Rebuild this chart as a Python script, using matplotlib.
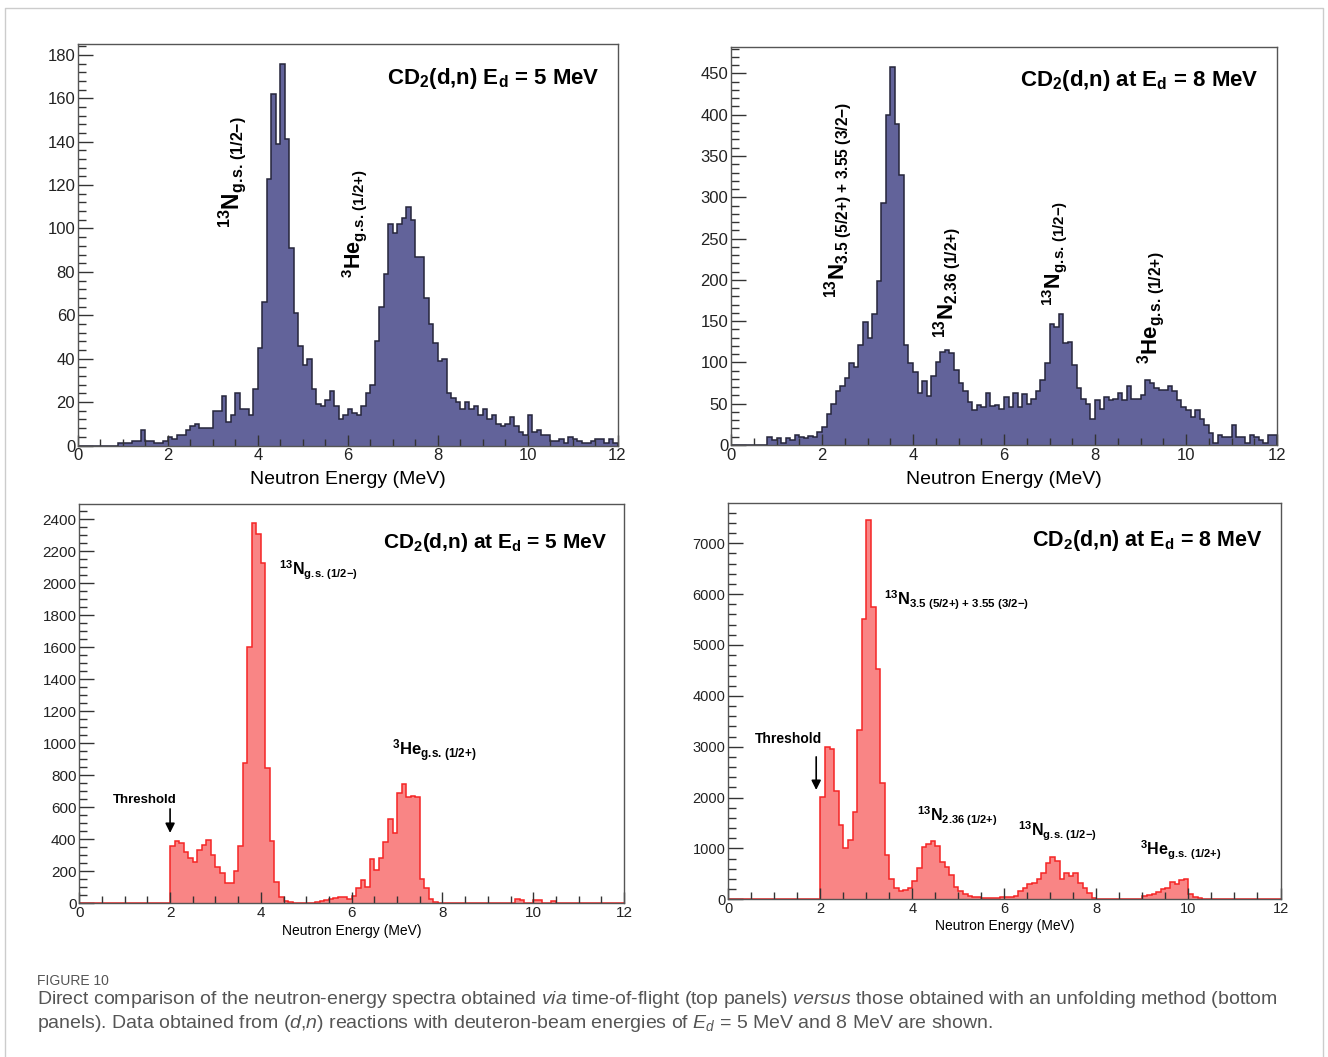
# -*- coding: utf-8 -*-
"""
Neutron energy spectra from CD2(d,n) at Ed = 5 and 8 MeV.
Top: time-of-flight spectra, bottom: unfolded spectra.
"""
import numpy as np
import matplotlib.pyplot as plt
from matplotlib.ticker import MultipleLocator
from matplotlib.lines import Line2D

plt.rcParams['font.family'] = 'Liberation Sans'
plt.rcParams['mathtext.fontset'] = 'custom'
plt.rcParams['mathtext.rm'] = 'Liberation Sans'
plt.rcParams['mathtext.bf'] = 'Liberation Sans:bold'
plt.rcParams['mathtext.it'] = 'Liberation Sans:italic'

#%% Data (0.1 MeV bins from 0 to 12 MeV)
edges = np.linspace(0, 12, 121)

tof_5mev = [0, 0, 0, 0, 0, 0, 0, 0, 0, 1,
            1, 1, 2, 2, 7, 2, 2, 1, 1, 2,
            4, 3, 5, 5, 7, 9, 10, 8, 8, 8,
            16, 16, 23, 11, 14, 24, 17, 17, 14, 26,
            45, 66, 123, 162, 139, 176, 141, 91, 61, 46,
            37, 40, 26, 19, 18, 21, 25, 18, 12, 14,
            17, 15, 14, 18, 24, 28, 48, 64, 79, 102,
            98, 102, 105, 110, 104, 87, 87, 68, 56, 47,
            39, 40, 24, 22, 20, 17, 20, 17, 18, 14,
            17, 12, 14, 10, 9, 10, 13, 9, 6, 5,
            14, 6, 7, 5, 5, 2, 2, 3, 1, 4,
            3, 2, 1, 1, 2, 3, 3, 1, 3, 1]

tof_8mev = [0, 0, 0, 0, 0, 0, 0, 0, 10, 6,
            8, 2, 8, 6, 12, 10, 9, 11, 10, 16,
            22, 38, 50, 65, 71, 81, 99, 95, 121, 149,
            129, 159, 199, 293, 400, 458, 389, 327, 121, 99,
            89, 63, 77, 59, 83, 100, 113, 115, 111, 91,
            75, 65, 52, 42, 48, 46, 63, 47, 48, 44,
            58, 46, 63, 46, 62, 50, 56, 65, 79, 99,
            147, 143, 159, 123, 125, 97, 69, 56, 50, 31,
            54, 44, 58, 54, 56, 63, 54, 71, 56, 56,
            60, 79, 75, 69, 67, 67, 71, 65, 54, 46,
            42, 34, 42, 32, 24, 14, 2, 12, 10, 10,
            24, 10, 10, 2, 12, 10, 6, 2, 12, 12]

unf_5mev = [0, 0, 0, 0, 0, 0, 0, 0, 0, 0,
            0, 0, 0, 0, 0, 0, 0, 0, 0, 0,
            356, 391, 377, 320, 282, 261, 335, 366, 397, 303,
            230, 188, 125, 125, 199, 356, 879, 1600, 2380, 2308,
            2128, 847, 387, 136, 42, 15, 8, 5, 4, 3,
            3, 5, 10, 15, 22, 28, 32, 38, 42, 30,
            45, 95, 145, 105, 275, 210, 285, 385, 530, 440,
            690, 745, 665, 670, 665, 150, 95, 25, 8, 0,
            0, 0, 0, 0, 0, 0, 0, 0, 0, 0,
            0, 0, 0, 0, 0, 0, 25, 20, 0, 0,
            20, 18, 0, 0, 15, 0, 0, 0, 0, 0,
            0, 0, 0, 0, 0, 0, 0, 0, 0, 0]

unf_8mev = [0, 0, 0, 0, 0, 0, 0, 0, 0, 0,
            0, 0, 0, 0, 0, 0, 0, 0, 0, 0,
            2020, 3000, 2950, 2120, 1460, 1000, 1170, 1720, 3330, 5520,
            7460, 5750, 4520, 2290, 880, 390, 230, 170, 190, 220,
            360, 610, 1020, 1080, 1150, 1050, 740, 640, 470, 250,
            160, 100, 70, 50, 40, 35, 30, 30, 35, 40,
            45, 55, 65, 165, 230, 294, 327, 392, 523, 719,
            830, 752, 392, 523, 458, 523, 327, 229, 131, 33,
            13, 13, 13, 0, 0, 0, 0, 0, 0, 13,
            65, 90, 111, 150, 196, 216, 346, 294, 373, 405,
            98, 46, 20, 15, 0, 0, 0, 0, 0, 0,
            0, 0, 0, 0, 0, 0, 0, 0, 0, 0]

# state labels (mathtext, braces keep +/- from getting operator spacing)
GS_MINUS = r'g.\!s.\!\ (1/2{-})'
GS_PLUS = r'g.\!s.\!\ (1/2{+})'
EX_236 = r'2.36\ (1/2{+})'
EX_35 = r'3.5\ (5/2{+})\ {+}\ 3.55\ (3/2{-})'

#%% Helpers
def nuc(mass, sym, sub):
    return r'$^{\mathbf{%s}}\mathbf{%s}_{\mathbf{%s}}$' % (mass, sym, sub)

def style(ax, ymax, ymaj, ymin, fs):
    ax.set_xlim(0, 12)
    ax.set_ylim(0, ymax)
    ax.xaxis.set_major_locator(MultipleLocator(2))
    ax.xaxis.set_minor_locator(MultipleLocator(0.5))
    ax.yaxis.set_major_locator(MultipleLocator(ymaj))
    ax.yaxis.set_minor_locator(MultipleLocator(ymin))
    ax.tick_params(which='both', direction='in', top=False, right=False,
                   labelsize=fs, pad=2, color='#333333', labelcolor='#222222', width=1)
    ax.tick_params(axis='y', which='major', length=11)
    ax.tick_params(axis='y', which='minor', length=5.5)
    ax.tick_params(axis='x', which='major', length=8)
    ax.tick_params(axis='x', which='minor', length=5)
    for s in ax.spines.values():
        s.set_color('#555555')
        s.set_linewidth(1)

def hist(ax, vals, fill, edge):
    ax.stairs(vals, edges, fill=True, color=fill, lw=0)
    ax.stairs(vals, edges, color=edge, lw=1.1)

W, H = 1328, 1057
def box(l, r, t, b):
    return [l / W, 1 - b / H, (r - l) / W, (b - t) / H]

fig = plt.figure(figsize=(13.28, 10.57), dpi=100)

blue, blue_edge = '#62639a', '#25253a'
red, red_edge = '#f98585', '#f52525'

#%% Top left: TOF 5 MeV
ax1 = fig.add_axes(box(78, 617.5, 44, 445.5))
hist(ax1, tof_5mev, blue, blue_edge)
style(ax1, 185, 20, 4, 12)
ax1.text(0.967, 0.900, r'CD$_\mathbf{2}$(d,n) E$_\mathbf{d}$ = 5 MeV', transform=ax1.transAxes,
         ha='right', va='baseline', fontsize=16, fontweight='bold')
ax1.text(3.42, 100, nuc('13', 'N', GS_MINUS), rotation=90, ha='center', va='bottom', fontsize=16.5)
ax1.text(6.14, 77, nuc('3', 'He', GS_PLUS), rotation=90, ha='center', va='bottom', fontsize=15.5)
ax1.text(0.5, -34 / 401.5, 'Neutron Energy (MeV)', transform=ax1.transAxes,
         ha='center', va='center', fontsize=14)

#%% Top right: TOF 8 MeV
ax2 = fig.add_axes(box(731, 1277, 47, 445))
hist(ax2, tof_8mev, blue, blue_edge)
style(ax2, 482, 50, 10, 12)
ax2.text(0.967, 0.902, r'CD$_\mathbf{2}$(d,n) at E$_\mathbf{d}$ = 8 MeV', transform=ax2.transAxes,
         ha='right', va='baseline', fontsize=16, fontweight='bold')
ax2.text(2.35, 178, nuc('13', 'N', EX_35), rotation=90, ha='center', va='bottom', fontsize=16)
ax2.text(4.74, 130, nuc('13', 'N', EX_236), rotation=90, ha='center', va='bottom', fontsize=16)
ax2.text(7.11, 168, nuc('13', 'N', GS_MINUS), rotation=90, ha='center', va='bottom', fontsize=15.5)
ax2.text(9.24, 98, nuc('3', 'He', GS_PLUS), rotation=90, ha='center', va='bottom', fontsize=16)
ax2.text(0.5, -34 / 398, 'Neutron Energy (MeV)', transform=ax2.transAxes,
         ha='center', va='center', fontsize=14)

#%% Bottom left: unfolded 5 MeV
ax3 = fig.add_axes(box(79.3, 624, 504, 903.3))
hist(ax3, unf_5mev, red, red_edge)
style(ax3, 2496, 200, 50, 11)
ax3.text(0.969, 0.890, r'CD$_\mathbf{2}$(d,n) at E$_\mathbf{d}$ = 5 MeV', transform=ax3.transAxes,
         ha='right', va='baseline', fontsize=15, fontweight='bold')
ax3.text(4.41, 2050, nuc('13', 'N', GS_MINUS), ha='left', va='baseline', fontsize=11.5)
ax3.text(6.88, 920, nuc('3', 'He', GS_PLUS), ha='left', va='baseline', fontsize=12)
ax3.text(1.45, 627, 'Threshold', ha='center', va='baseline', fontsize=9.5, fontweight='bold')
ax3.annotate('', xy=(2.0, 440), xytext=(2.0, 590),
             arrowprops=dict(arrowstyle='-|>', color='black', lw=1.2, mutation_scale=14,
                             shrinkA=0, shrinkB=0))
ax3.text(0.5, -28 / 399.3, 'Neutron Energy (MeV)', transform=ax3.transAxes,
         ha='center', va='center', fontsize=10)

#%% Bottom right: unfolded 8 MeV
ax4 = fig.add_axes(box(728.3, 1280.5, 503.3, 899.3))
hist(ax4, unf_8mev, red, red_edge)
style(ax4, 7786, 1000, 200, 10.5)
ax4.text(0.967, 0.892, r'CD$_\mathbf{2}$(d,n) at E$_\mathbf{d}$ = 8 MeV', transform=ax4.transAxes,
         ha='right', va='baseline', fontsize=15.5, fontweight='bold')
ax4.text(3.39, 5786, nuc('13', 'N', EX_35), ha='left', va='baseline', fontsize=11.8)
ax4.text(4.09, 1524, nuc('13', 'N', EX_236), ha='left', va='baseline', fontsize=11.5)
ax4.text(6.29, 1245, nuc('13', 'N', GS_MINUS), ha='left', va='baseline', fontsize=11.5)
ax4.text(8.95, 873, nuc('3', 'He', GS_PLUS), ha='left', va='baseline', fontsize=11.5)
ax4.text(1.30, 3075, 'Threshold', ha='center', va='baseline', fontsize=10, fontweight='bold')
ax4.annotate('', xy=(1.91, 2150), xytext=(1.91, 2800),
             arrowprops=dict(arrowstyle='-|>', color='black', lw=1.2, mutation_scale=14,
                             shrinkA=0, shrinkB=0))
ax4.text(0.5, -27 / 396, 'Neutron Energy (MeV)', transform=ax4.transAxes,
         ha='center', va='center', fontsize=10)

#%% Frame and caption
fig.add_artist(Line2D([5 / W, 5 / W, 1323 / W, 1323 / W], [0, 1 - 8 / H, 1 - 8 / H, 0],
                      transform=fig.transFigure, color='#cccccc', lw=1))
grey = '#555555'
fig.text(37 / W, 1 - 981 / H, 'FIGURE 10', fontsize=10, color=grey, va='center')
fig.text(37 / W, 1 - 1000 / H,
         r'Direct comparison of the neutron-energy spectra obtained $\mathit{via}$ time-of-flight '
         r'(top panels) $\mathit{versus}$ those obtained with an unfolding method (bottom',
         fontsize=14, color=grey, va='center')
fig.text(37 / W, 1 - 1024 / H,
         r'panels). Data obtained from ($\mathit{d}$,$\mathit{n}$) reactions with deuteron-beam '
         r'energies of $\mathit{E}_{\mathit{d}}$ = 5 MeV and 8 MeV are shown.',
         fontsize=14, color=grey, va='center')

fig.savefig('out.png', dpi=100)
